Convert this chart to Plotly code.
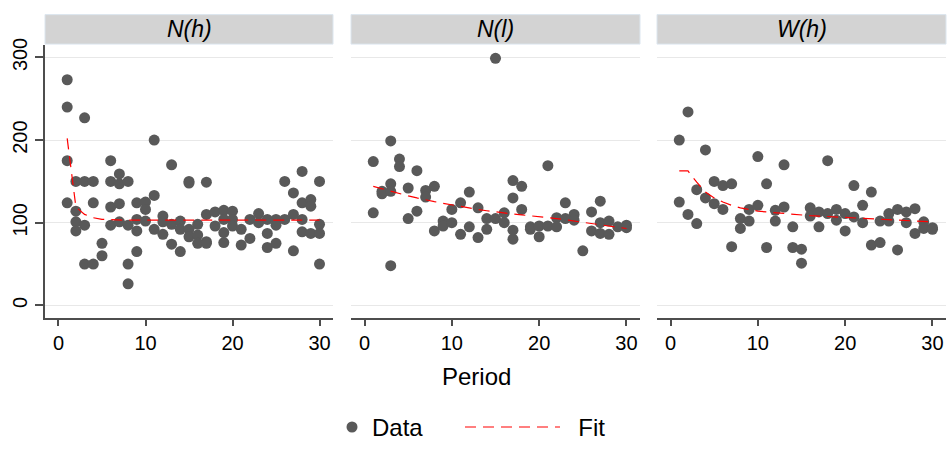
import plotly.graph_objects as go

# ---- data -----------------------------------------------------------------
panel_names = ["N(h)", "N(l)", "W(h)"]
fit_period = list(range(1, 31))

# observations per period (period -> list of values)
nh_obs = [
    [273, 240, 175, 124], [150, 114, 101, 90], [227, 150, 97, 50], [150, 124, 50],
    [75, 60], [175, 150, 119, 97], [159, 147, 123, 101], [150, 97, 50, 26],
    [124, 104, 90, 65], [125, 116, 102], [200, 133, 92], [108, 101, 86],
    [170, 98, 74], [102, 92, 65], [150, 148, 92, 83], [98, 85, 75],
    [149, 110, 77, 75], [113, 96], [115, 104, 88, 76], [114, 104, 96],
    [92, 73], [104, 81], [111, 100], [104, 87, 70], [104, 97, 75],
    [150, 104], [136, 110, 66], [162, 124, 104, 89], [128, 120, 87],
    [150, 98, 87, 50],
]
nl_obs = [
    [174, 112], [138, 135], [199, 147, 138, 48], [177, 168], [142, 105],
    [163, 114], [139, 131], [144, 90], [102, 96], [116, 100], [124, 86],
    [137, 95], [118, 82], [105, 92], [299, 105], [112, 100],
    [151, 130, 91, 80], [144, 116], [95, 92], [96, 83], [169, 96],
    [106, 95], [124, 105], [110, 103], [66], [113, 90], [126, 100, 87],
    [102, 86], [95], [97, 94],
]
wh_obs = [
    [200, 125], [234, 110], [140, 99], [188, 130], [150, 123], [145, 116],
    [147, 71], [105, 93], [116, 102], [180, 121], [147, 70], [115, 102],
    [170, 119], [95, 70], [68, 51], [118, 108], [113, 95], [175, 111],
    [116, 103], [111, 90], [145, 107], [121, 100], [137, 73], [102, 76],
    [111, 102], [116, 67], [113, 100], [117, 87], [101, 93], [94, 92],
]

nh_fit = [202, 119, 110, 106, 104, 103.5, 103, 103, 103, 103, 103, 103, 103, 103, 103,
          103, 103, 103, 103, 103, 103, 103, 103, 103, 103, 103, 103, 103, 103, 103]
nl_fit = [144, 141, 138, 135, 132.5, 130, 127.5, 125.5, 123.5, 121.5, 119.5, 117.5, 116,
          114.5, 113, 111.5, 110.5, 109.5, 108.5, 107.5, 106, 105, 103.5, 102, 100.5,
          99, 97.5, 96, 94.5, 93]
wh_fit = [162.6, 162.6, 149, 137, 130, 125, 121, 118, 116, 114, 113, 112, 111, 110, 109,
          108.5, 108, 107.5, 107, 106, 105.5, 105, 104.5, 104, 103.5, 103, 102.5, 102,
          101.5, 101]

y_ticks = [0, 100, 200, 300]
x_ticks = [0, 10, 20, 30]


def flatten(groups):
    xs, ys = [], []
    for p, vals in enumerate(groups, start=1):
        for v in vals:
            xs.append(p)
            ys.append(v)
    return xs, ys


# ---- styling --------------------------------------------------------------
FONT = "Liberation Sans, Arial, Helvetica, sans-serif"
DOT = "#595959"
AXIS = "#4d4d4d"
GRID = "#e8e8e8"
W, H = 952, 450

x_domains = [(45 / W, 333 / W), (351 / W, 640 / W), (657 / W, 946 / W)]
y_domain = (1 - 326.7 / H, 1 - 40 / H)

fig = go.Figure()

panels = [(nh_obs, nh_fit), (nl_obs, nl_fit), (wh_obs, wh_fit)]
for i, (obs, fit) in enumerate(panels):
    suffix = "" if i == 0 else str(i + 1)
    px, py = flatten(obs)
    fig.add_trace(go.Scatter(
        x=px, y=py, mode="markers", name="Data",
        marker=dict(color=DOT, size=11, line=dict(width=0)),
        xaxis="x" + suffix, yaxis="y" + suffix,
        showlegend=(i == 0), legend="legend",
    ))
    fig.add_trace(go.Scatter(
        x=fit_period, y=fit, mode="lines", name="\u00a0\u00a0Fit",
        line=dict(color="#ff0000", width=1.2, dash="11px,7px"),
        xaxis="x" + suffix, yaxis="y" + suffix,
        showlegend=(i == 0), legend="legend2",
    ))

layout = dict(
    width=W, height=H,
    margin=dict(l=0, r=0, t=0, b=0),
    paper_bgcolor="white", plot_bgcolor="white",
    font=dict(family=FONT, color="black"),
    showlegend=True,
    legend=dict(orientation="h", x=332 / W, xanchor="left", y=1 - 442 / H,
                yanchor="middle", font=dict(size=24, family=FONT),
                itemwidth=30, bgcolor="rgba(0,0,0,0)"),
    legend2=dict(orientation="h", x=460 / W, xanchor="left", y=1 - 442 / H,
                 yanchor="middle", font=dict(size=24, family=FONT),
                 itemwidth=95, bgcolor="rgba(0,0,0,0)"),
)

for i, dom in enumerate(x_domains):
    suffix = "" if i == 0 else str(i + 1)
    layout["xaxis" + suffix] = dict(
        domain=list(dom), range=[-1.55, 31.55], anchor="y" + suffix,
        tickvals=x_ticks, ticks="outside", ticklen=7, tickwidth=1.5, tickcolor=AXIS,
        showline=True, linecolor=AXIS, linewidth=1.5, showgrid=False, zeroline=False,
        tickfont=dict(size=20, family=FONT, color="black"),
    )
    ax = dict(
        domain=list(y_domain), range=[-15, 315], anchor="x" + suffix,
        tickvals=y_ticks, showgrid=True, gridcolor=GRID, gridwidth=1.3, zeroline=False,
    )
    if i == 0:
        ax.update(ticks="outside", ticklen=8, tickwidth=1.5, tickcolor=AXIS,
                  showline=True, linecolor=AXIS, linewidth=1.5, tickangle=-90,
                  tickfont=dict(size=20, family=FONT, color="black"))
    else:
        ax.update(matches="y", showticklabels=False, ticks="", showline=False)
    layout["yaxis" + suffix] = ax

fig.update_layout(**layout)

# strip headers above each panel
for name, dom in zip(panel_names, x_domains):
    fig.add_shape(type="rect", xref="paper", yref="paper",
                  x0=dom[0], x1=dom[1], y0=1 - 39 / H, y1=1 - 8 / H,
                  fillcolor="#d3d3d3", line=dict(color="#dce6ef", width=1), layer="below")
    fig.add_annotation(text="<i>%s</i>" % name, xref="paper", yref="paper",
                       x=(dom[0] + dom[1]) / 2, y=1 - 23.5 / H, showarrow=False,
                       xanchor="center", yanchor="middle",
                       font=dict(size=23, family=FONT, color="black"))

# shared x title
fig.add_annotation(text="Period", xref="paper", yref="paper", x=0.5, y=1 - 389 / H,
                   showarrow=False, xanchor="center", yanchor="middle",
                   font=dict(size=24, family=FONT, color="black"))

fig.write_html("out.html")
